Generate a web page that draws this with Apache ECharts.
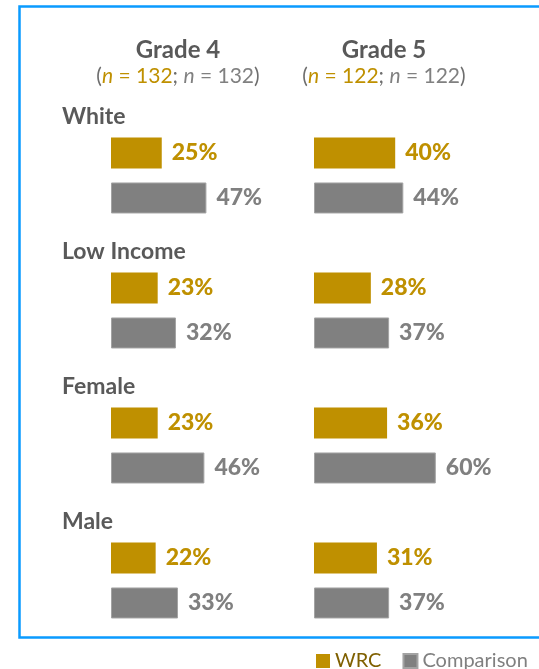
<!DOCTYPE html>
<html>
<head>
<meta charset="utf-8">
<script src="https://cdn.jsdelivr.net/npm/echarts@6/dist/echarts.min.js"></script>
<style>
  html, body { margin: 0; padding: 0; background: #ffffff; }
  #chart { width: 539px; height: 669px; }
</style>
</head>
<body>
<div id="chart"></div>
<script>
// Student groups (rows) and grade panels (columns)
const groups = ['White', 'Low Income', 'Female', 'Male'];
const grades = ['Grade 4', 'Grade 5'];
const nWRC = [132, 122];
const nComparison = [132, 122];

// Percentages per group
const wrcGrade4 = [25, 23, 23, 22];
const comparisonGrade4 = [47, 32, 46, 33];
const wrcGrade5 = [40, 28, 36, 31];
const comparisonGrade5 = [44, 37, 60, 37];

const FONT = 'Lato, "Open Sans", sans-serif';
const GOLD = '#BF9000';
const GRAY = '#808080';
const DARK = '#595959';

const chart = echarts.init(document.getElementById('chart'), null, { renderer: 'canvas' });

const panelLeft = [111, 314];
const panelWidth = 203;
const gridTop = 108;
const gridHeight = 540;

function gradeTitle(i) {
  return {
    text: grades[i],
    subtext: '{p|(}{ng|n}{g| = ' + nWRC[i] + '}{p|; }{na|n}{a| = ' + nComparison[i] + '}{p|)}',
    left: i === 0 ? 178 : 384,
    top: 38,
    padding: 0,
    textAlign: 'center',
    itemGap: 4,
    textStyle: { fontFamily: FONT, fontWeight: 'bold', fontSize: 24, color: DARK },
    subtextStyle: {
      fontFamily: FONT, fontSize: 21, color: GRAY,
      rich: {
        p: { fontFamily: FONT, fontSize: 21, color: '#6E6E6E' },
        ng: { fontFamily: FONT, fontSize: 21, color: GOLD, fontStyle: 'italic' },
        g: { fontFamily: FONT, fontSize: 21, color: GOLD },
        na: { fontFamily: FONT, fontSize: 21, color: GRAY, fontStyle: 'italic' },
        a: { fontFamily: FONT, fontSize: 21, color: GRAY }
      }
    }
  };
}

function barSeries(name, data, idx, color, border) {
  return {
    name: name,
    type: 'bar',
    xAxisIndex: idx,
    yAxisIndex: idx,
    data: data,
    barWidth: 31,
    barGap: '45%',
    itemStyle: border
      ? { color: color, borderColor: '#A3A3A3', borderWidth: 1 }
      : { color: color },
    label: {
      show: true,
      position: 'right',
      distance: 10,
      formatter: '{c}%',
      fontFamily: FONT,
      fontWeight: 900,
      fontSize: 23,
      color: color
    },
    emphasis: { disabled: true },
    animation: false
  };
}

const option = {
  backgroundColor: '#ffffff',
  animation: false,
  title: [gradeTitle(0), gradeTitle(1)],
  legend: {
    left: 316,
    top: 651,
    padding: 0,
    itemWidth: 14,
    itemHeight: 14,
    itemGap: 21,
    icon: 'rect',
    textStyle: { fontFamily: FONT, fontSize: 20 },
    data: [
      { name: 'WRC', textStyle: { color: '#7F6000' } },
      { name: 'Comparison', textStyle: { color: GRAY } }
    ]
  },
  grid: panelLeft.map(l => ({ left: l, top: gridTop, width: panelWidth, height: gridHeight })),
  xAxis: [0, 1].map(i => ({
    gridIndex: i, type: 'value', min: 0, max: 100, show: false
  })),
  yAxis: [0, 1].map(i => ({
    gridIndex: i,
    type: 'category',
    data: groups,
    inverse: true,
    axisLine: { show: false },
    axisTick: { show: false },
    splitLine: { show: false },
    axisLabel: {
      show: i === 0,
      interval: 0,
      showMinLabel: true,
      showMaxLabel: true,
      hideOverlap: false,
      align: 'left',
      margin: 49,
      verticalAlign: 'middle',
      // group name sits above its pair of bars; the empty second line pushes it up
      formatter: v => '{name|' + v + '}\n{gap|}',
      rich: {
        name: {
          fontFamily: FONT, fontWeight: 'bold', fontSize: 23, color: DARK,
          lineHeight: 24, align: 'left'
        },
        gap: { height: 118, lineHeight: 118 }
      }
    }
  })),
  graphic: [{
    type: 'rect',
    silent: true,
    shape: { x: 19.5, y: 6.5, width: 560, height: 631 },
    style: { fill: 'none', stroke: '#0A9BFF', lineWidth: 2.5 }
  }],
  series: [
    barSeries('WRC', wrcGrade4, 0, GOLD, false),
    barSeries('Comparison', comparisonGrade4, 0, GRAY, true),
    barSeries('WRC', wrcGrade5, 1, GOLD, false),
    barSeries('Comparison', comparisonGrade5, 1, GRAY, true)
  ]
};

chart.setOption(option);
</script>
</body>
</html>
